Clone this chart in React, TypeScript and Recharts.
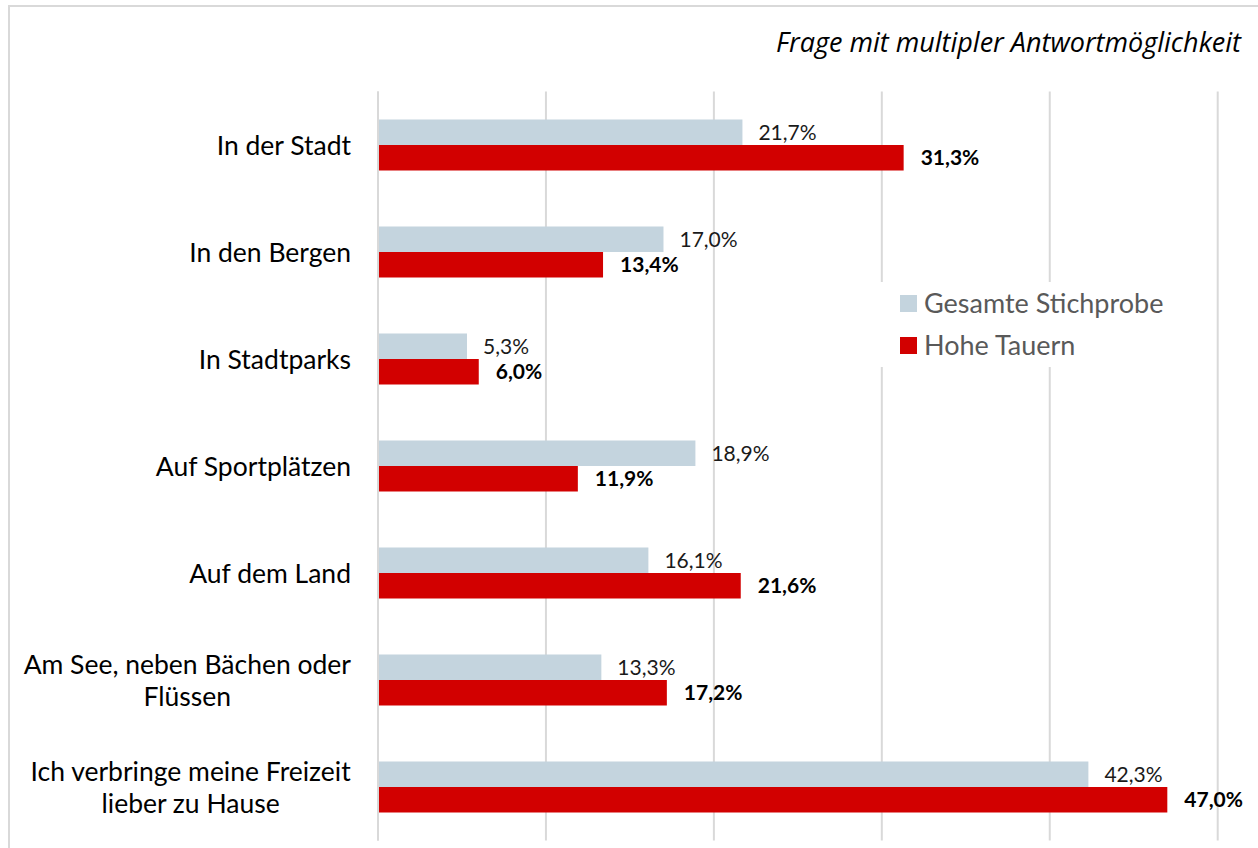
import React from 'react';
import { BarChart, Bar, XAxis, YAxis, CartesianGrid, LabelList } from 'recharts';

const categories = [
  'In der Stadt',
  'In den Bergen',
  'In Stadtparks',
  'Auf Sportplätzen',
  'Auf dem Land',
  'Am See, neben Bächen oder\nFlüssen',
  'Ich verbringe meine Freizeit\nlieber zu Hause',
];
const gesamte = [21.7, 17.0, 5.3, 18.9, 16.1, 13.3, 42.3];
const hoheTauern = [31.3, 13.4, 6.0, 11.9, 21.6, 17.2, 47.0];
const xTicks = [0, 10, 20, 30, 40, 50];

const GREY = '#C4D4DE';
const RED = '#D20000';
const FONT = 'Lato, "Open Sans", sans-serif';
const LABEL_FONT_SIZE = 26.5;

const data = categories.map((name, i) => ({ name, gesamte: gesamte[i], hohe: hoheTauern[i] }));

const fmt = (v: any) => `${Number(v).toFixed(1).replace('.', ',')}%`;

let ctx: CanvasRenderingContext2D | null = null;
const measure = (s: string) => {
  if (!ctx) ctx = document.createElement('canvas').getContext('2d');
  if (!ctx) return s.length * 11.5;
  ctx.font = `${LABEL_FONT_SIZE}px Lato`;
  return ctx.measureText(s).width;
};

const CategoryTick = (props: any) => {
  const { x, y, payload } = props;
  const lines: string[] = String(payload.value).split('\n');
  const right = x - 19;
  if (lines.length === 1) {
    return (
      <text x={right} y={y} dy="0.36em" textAnchor="end" fill="#000" fontSize={LABEL_FONT_SIZE} fontFamily={FONT}>
        {lines[0]}
      </text>
    );
  }
  const w = Math.max(...lines.map(measure));
  const cx = right - w / 2;
  const lh = 32;
  const start = y - ((lines.length - 1) * lh) / 2;
  return (
    <text textAnchor="middle" fill="#000" fontSize={LABEL_FONT_SIZE} fontFamily={FONT}>
      {lines.map((l, i) => (
        <tspan key={i} x={cx} y={start + i * lh} dy="0.36em">{l}</tspan>
      ))}
    </text>
  );
};

export default function App() {
  return (
    <div style={{ position: 'absolute', left: 0, top: 0, width: 1258, height: 848, overflow: 'hidden', background: '#fff', fontFamily: FONT }}>
      <div style={{ position: 'absolute', left: 8, top: 5, width: 1300, height: 900, border: '2px solid #D9D9D9', boxSizing: 'border-box' }} />
      <BarChart
        width={1258}
        height={848}
        data={data}
        layout="vertical"
        margin={{ top: 91.5, right: 40.3, bottom: 7.5, left: 0 }}
        barGap={0}
        barSize={25.5}
      >
        <CartesianGrid horizontal={false} stroke="#D9D9D9" strokeWidth={2} />
        <XAxis type="number" domain={[0, 50]} ticks={xTicks} hide />
        <YAxis
          type="category"
          dataKey="name"
          width={378}
          axisLine={{ stroke: '#D9D9D9', strokeWidth: 2 }}
          tickLine={false}
          tick={<CategoryTick />}
          interval={0}
        />
        <Bar dataKey="gesamte" fill={GREY} isAnimationActive={false}>
          <LabelList dataKey="gesamte" position="right" offset={16} formatter={fmt} fill="#1a1a1a" fontSize={21} fontFamily={FONT} />
        </Bar>
        <Bar dataKey="hohe" fill={RED} isAnimationActive={false}>
          <LabelList dataKey="hohe" position="right" offset={17} formatter={fmt} fill="#000" fontSize={21} fontWeight="bold" fontFamily={FONT} />
        </Bar>
      </BarChart>
      <div style={{ position: 'absolute', right: 17, top: 26, fontSize: 27, fontStyle: 'italic', color: '#000', lineHeight: '32px', fontFamily: '"Open Sans", sans-serif' }}>
        Frage mit multipler Antwortmöglichkeit
      </div>
      <div style={{ position: 'absolute', left: 872, top: 282, width: 310, height: 85, background: '#fff' }}>
        {[{ c: GREY, t: 'Gesamte Stichprobe' }, { c: RED, t: 'Hohe Tauern' }].map((it, i) => (
          <div key={i} style={{ position: 'absolute', left: 28, top: 6 + i * 42, height: 30, display: 'flex', alignItems: 'center' }}>
            <span style={{ width: 17, height: 17, background: it.c, display: 'inline-block', marginRight: 7 }} />
            <span style={{ fontSize: 27, color: '#595959', lineHeight: '30px' }}>{it.t}</span>
          </div>
        ))}
      </div>
    </div>
  );
}
